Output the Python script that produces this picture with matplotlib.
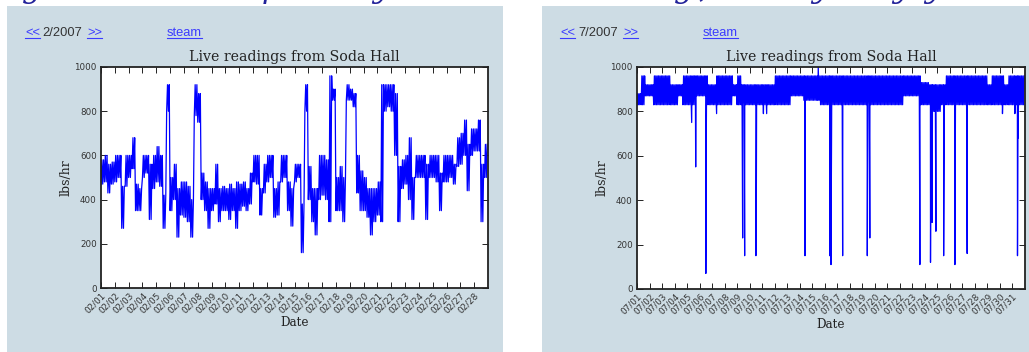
import numpy as np
import matplotlib
matplotlib.use("Agg")
import matplotlib.pyplot as plt
import matplotlib.dates as mdates
from matplotlib.patches import Rectangle
from matplotlib.lines import Line2D
from datetime import datetime, timedelta

W, H = 1029, 352

# February 2007: low / high edge of the reading band, 4 slots per day (00h, 06h, 12h, 18h)
feb_lo = [470, 480, 430, 470,   480, 500, 270, 460,   500, 540, 350, 350,   500, 520, 310, 450,
          480, 460, 270, 800,   350, 400, 230, 330,   320, 300, 230, 780,   750, 400, 350, 270,
          350, 380, 300, 350,   350, 310, 350, 270,   350, 370, 350, 380,   480, 470, 330, 430,
          480, 500, 320, 330,   480, 500, 350, 280,   480, 500, 160, 800,   400, 300, 240, 400,
          420, 400, 300, 850,   350, 350, 300, 850,   850, 820, 430, 350,   350, 320, 240, 300,
          330, 300, 800, 820,   800, 600, 300, 450,   470, 400, 310, 500,   500, 500, 310, 500,
          500, 480, 350, 480,   480, 500, 470, 550,   560, 600, 440, 600,   620, 620, 300, 500]
feb_hi = [580, 600, 560, 570,   600, 600, 460, 600,   600, 680, 470, 450,   600, 600, 560, 600,
          640, 600, 420, 920,   500, 560, 450, 480,   480, 460, 400, 920,   880, 520, 480, 450,
          450, 560, 450, 460,   450, 470, 450, 480,   470, 480, 450, 520,   600, 600, 450, 560,
          600, 600, 450, 480,   600, 600, 480, 450,   560, 560, 380, 920,   550, 450, 450, 600,
          600, 580, 960, 900,   500, 550, 500, 920,   900, 880, 600, 530,   500, 450, 450, 450,
          480, 920, 920, 920,   920, 880, 550, 580,   600, 680, 500, 600,   600, 600, 560, 600,
          600, 600, 520, 600,   600, 600, 560, 680,   700, 760, 650, 720,   720, 760, 560, 650]
feb_ev_days = []
feb_ev_vals = []

# July 2007: low / high edge of the band, 3 slots per day, plus the short drops
jul_lo = [830, 830, 870,   870, 830, 830,   830, 830, 830,   830, 870, 830,   830, 830, 870,
          870, 870, 830,   830, 830, 830,   830, 830, 870,   830, 830, 830,   830, 830, 830,
          830, 830, 830,   830, 830, 830,   830, 870, 870,   870, 850, 850,   850, 850, 830,
          830, 830, 830,   830, 830, 830,   830, 830, 830,   830, 830, 830,   830, 830, 830,
          830, 830, 830,   830, 870, 870,   870, 870, 830,   830, 830, 800,   800, 830, 830,
          830, 830, 830,   830, 830, 830,   830, 830, 830,   830, 830, 830,   830, 830, 830,
          830, 830, 830]
jul_hi = [880, 960, 920,   920, 960, 960,   960, 960, 920,   920, 920, 960,   960, 960, 960,
          960, 960, 920,   920, 960, 960,   960, 960, 920,   960, 920, 920,   920, 920, 920,
          920, 920, 920,   960, 960, 960,   960, 960, 960,   960, 960, 960,   960, 960, 960,
          960, 960, 960,   960, 960, 960,   960, 960, 960,   960, 960, 960,   960, 960, 960,
          960, 960, 960,   960, 960, 960,   960, 960, 930,   930, 920, 920,   920, 920, 960,
          960, 960, 960,   960, 960, 960,   960, 960, 960,   920, 960, 960,   960, 920, 960,
          960, 960, 960]
jul_ev_days = [4.37, 4.69, 5.50, 5.53, 6.36, 8.44, 8.60, 9.50, 9.53, 10.10, 10.36, 13.42, 13.44,
               14.48, 15.40, 15.50, 16.43, 18.40, 18.60, 22.60, 23.45, 23.58, 23.88, 24.50,
               25.40, 26.38, 29.20, 30.19, 30.40, 30.45]
jul_ev_vals = [750, 550, 70, 630, 790, 230, 150, 150, 310, 790, 790, 150, 230,
               1000, 150, 110, 150, 150, 230, 110, 120, 300, 260, 150,
               110, 160, 790, 790, 150, 680]

panels = [
    dict(month="2/2007", start=datetime(2007, 2, 1), ndays=28, lo=feb_lo, hi=feb_hi, per_day=4, reps=2,
         ev_days=feb_ev_days, ev_vals=feb_ev_vals, box=(7, 503), ax=(101, 67, 488, 288),
         nav=(25, 42, 87, 167)),
    dict(month="7/2007", start=datetime(2007, 7, 1), ndays=31, lo=jul_lo, hi=jul_hi, per_day=3, reps=3,
         ev_days=jul_ev_days, ev_vals=jul_ev_vals, box=(542, 1029), ax=(637, 67, 1025, 289),
         nav=(560, 578, 623, 703)),
]

# cut-off headline above the panels (only descenders visible)
head_x = [22, 262, 372, 674, 698, 811, 892, 924]
head_chars = ["g", "p", "y", "g", ",", "y", "y", "y"]


def build_series(start, lo, hi, per_day, ev_days, ev_vals, reps=3):
    # readings flip between the low and high edge several times inside each slot
    step = 1.0 / per_day
    sub = step / (2 * reps)
    t, v = [], []
    for k in range(len(lo)):
        for r in range(reps):
            t += [k * step + (2 * r) * sub, k * step + (2 * r + 1) * sub]
            v += [lo[k], hi[k]]
    t += list(ev_days)
    v += list(ev_vals)
    order = np.argsort(t, kind="stable")
    days = np.array(t)[order]
    vals = np.array(v)[order]
    return [start + timedelta(days=float(d)) for d in days], vals


fig = plt.figure(figsize=(W / 100, H / 100), dpi=100)
fig.patch.set_facecolor("white")
renderer = fig.canvas.get_renderer()

link_col = "#3b3bff"
nav_font = dict(family="Liberation Sans", fontsize=9.3)


def nav_text(x, s, color, underline):
    t = fig.text(x / W, 1 - 35.5 / H, s, color=color, va="baseline", ha="left", **nav_font)
    if underline:
        bb = t.get_window_extent(renderer)
        y = (H - 37.5) / H
        fig.add_artist(Line2D([bb.x0 / W, bb.x1 / W], [y, y], color=color, lw=0.8))


for p in panels:
    x0, x1 = p["box"]
    fig.patches.append(Rectangle((x0 / W, 0), (x1 - x0) / W, (H - 6) / H, transform=fig.transFigure,
                                 facecolor="#cddce4", edgecolor="none", zorder=-5))

    ax_l, ax_t, ax_r, ax_b = p["ax"]
    ax = fig.add_axes([ax_l / W, 1 - ax_b / H, (ax_r - ax_l) / W, (ax_b - ax_t) / H])
    ax.set_zorder(2)
    dates, vals = build_series(p["start"], p["lo"], p["hi"], p["per_day"], p["ev_days"], p["ev_vals"],
                               reps=p["reps"])
    ax.plot(dates, vals, color="#0000ff", lw=0.9)

    ax.set_xlim(p["start"], p["start"] + timedelta(days=p["ndays"]))
    ax.set_ylim(0, 1000)
    ax.set_xticks([p["start"] + timedelta(days=i) for i in range(p["ndays"])])
    ax.xaxis.set_major_formatter(mdates.DateFormatter("%m/%d"))
    ax.set_yticks(range(0, 1001, 200))
    ax.tick_params(direction="in", top=True, right=True, length=4, width=0.7,
                   labelsize=6.3, labelcolor="#333333", color="#222222")
    ax.tick_params(axis="y", pad=3)
    ax.tick_params(axis="x", pad=2)
    for lab in ax.get_xticklabels():
        lab.set_rotation(45)
        lab.set_ha("right")
        lab.set_va("top")
        lab.set_rotation_mode("anchor")
    for s in ax.spines.values():
        s.set_linewidth(1.3)
        s.set_color("#222222")

    ax.set_title("Live readings from Soda Hall", family="DejaVu Serif", fontsize=10.2, color="#222222", pad=4)
    ax.set_ylabel("lbs/hr", family="DejaVu Serif", fontsize=9, color="#222222", labelpad=1)
    ax.set_xlabel("Date", family="DejaVu Serif", fontsize=8.6, color="#222222", labelpad=1)

    n0, n1, n2, n3 = p["nav"]
    nav_text(n0, "<<", link_col, True)
    nav_text(n1, p["month"], "#333333", False)
    nav_text(n2, ">>", link_col, True)
    nav_text(n3, "steam", link_col, True)

for x, c in zip(head_x, head_chars):
    fig.text(x / W, 1 + 3 / H, c, family="DejaVu Serif", style="italic", fontsize=22,
             color="#22229a", va="baseline", ha="left")

fig.savefig("out.png", dpi=100)
